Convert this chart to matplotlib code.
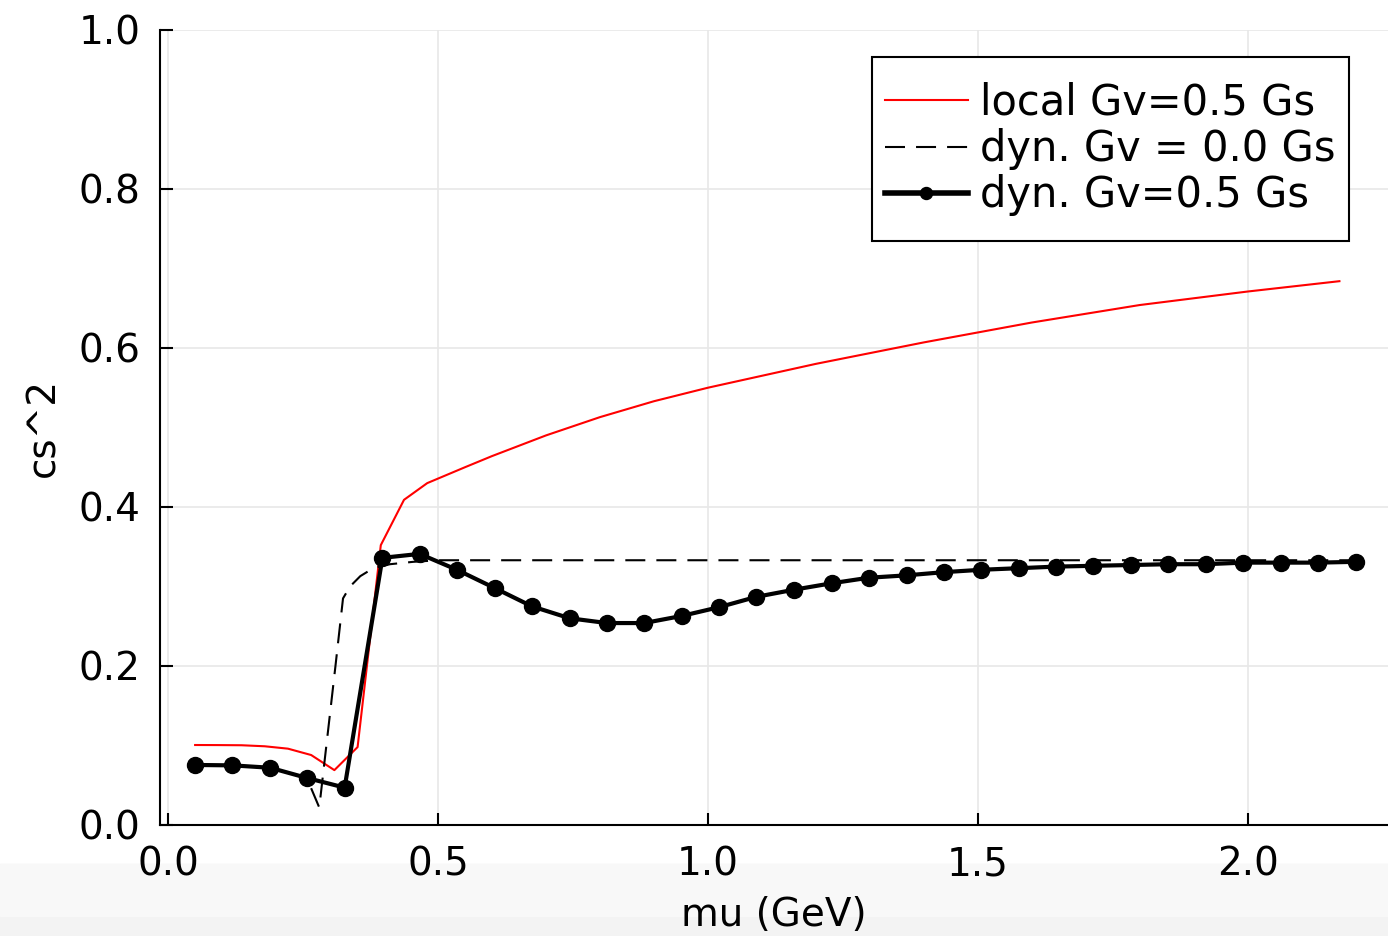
import matplotlib
matplotlib.use("Agg")
import matplotlib.pyplot as plt
from matplotlib.patches import Rectangle

# local Gv = 0.5 Gs (red)
mu_local = [0.05, 0.093, 0.136, 0.179, 0.222, 0.265, 0.308, 0.351, 0.394, 0.437,
            0.48, 0.55, 0.6, 0.7, 0.8, 0.9, 1.0, 1.2, 1.4, 1.6, 1.8, 2.0, 2.17]
cs2_local = [0.1006, 0.1005, 0.1003, 0.099, 0.096, 0.088, 0.069, 0.098, 0.352, 0.409,
             0.430, 0.450, 0.464, 0.490, 0.513, 0.533, 0.550, 0.580, 0.607, 0.632,
             0.654, 0.671, 0.684]

# dyn. Gv = 0.0 Gs (dashed)
mu_dyn0 = [0.05, 0.1185, 0.187, 0.257, 0.28, 0.31, 0.324, 0.337, 0.356, 0.38,
           0.411, 0.454, 0.5, 2.2]
cs2_dyn0 = [0.0755, 0.075, 0.072, 0.059, 0.022, 0.20, 0.285, 0.300, 0.313, 0.323,
            0.328, 0.331, 0.333, 0.333]

# dyn. Gv = 0.5 Gs (thick black with dots)
mu_dyn5 = [0.05, 0.119, 0.189, 0.258, 0.327, 0.397, 0.466, 0.535, 0.605, 0.674,
           0.744, 0.813, 0.882, 0.952, 1.021, 1.090, 1.160, 1.229, 1.298, 1.368,
           1.437, 1.506, 1.576, 1.645, 1.714, 1.784, 1.853, 1.922, 1.992, 2.061,
           2.131, 2.2]
cs2_dyn5 = [0.0755, 0.075, 0.072, 0.059, 0.047, 0.336, 0.341, 0.321, 0.298, 0.275,
            0.260, 0.254, 0.254, 0.263, 0.274, 0.287, 0.296, 0.304, 0.311, 0.314,
            0.318, 0.321, 0.323, 0.325, 0.326, 0.327, 0.328, 0.328, 0.330, 0.330,
            0.330, 0.331]

plt.rcParams['font.family'] = ['DejaVu Sans']
plt.rcParams['font.size'] = 28

fig = plt.figure(figsize=(13.88, 9.36), dpi=100)
# faint grey band at the very bottom of the screenshot
fig.patches.append(Rectangle((0, 0), 1, 0.077, transform=fig.transFigure,
                             color='#f3f3f3', zorder=-2))
fig.patches.append(Rectangle((0, 0.021), 1, 0.056, transform=fig.transFigure,
                             color='#f8f8f8', zorder=-1))

ax = fig.add_axes([0.1153, 0.1186, 0.8847, 0.8494])
ax.patch.set_alpha(0)

ax.plot(mu_local, cs2_local, color='red', lw=1.5, label='local Gv=0.5 Gs')
ax.plot(mu_dyn0, cs2_dyn0, color='black', lw=1.5, linestyle=(0, (9.6, 5.3)),
        label='dyn. Gv = 0.0 Gs')
ax.plot(mu_dyn5, cs2_dyn5, color='black', lw=3, marker='o', markersize=11.5,
        label='dyn. Gv=0.5 Gs')

ax.set_xlim(-0.015, 2.26)
ax.set_ylim(0, 1)
ax.set_xticks([0.0, 0.5, 1.0, 1.5, 2.0])
ax.set_yticks([0.0, 0.2, 0.4, 0.6, 0.8, 1.0])
ax.set_xticklabels(['0.0', '0.5', '1.0', '1.5', '2.0'])
ax.set_yticklabels(['0.0', '0.2', '0.4', '0.6', '0.8', '1.0'])
ax.grid(True, color='#e8e8e8', lw=1.2)
ax.set_axisbelow(True)

for s in ['top', 'right']:
    ax.spines[s].set_visible(False)
for s in ['left', 'bottom']:
    ax.spines[s].set_linewidth(1.5)
ax.tick_params(direction='in', length=9, width=1.5)
ax.tick_params(axis='y', pad=14)
ax.tick_params(axis='x', pad=15)

ax.set_xlabel('mu (GeV)', labelpad=9)
ax.set_ylabel('cs^2', labelpad=12)

leg = ax.legend(loc='upper right', bbox_to_anchor=(0.978, 0.966), borderaxespad=0,
                frameon=False, handlelength=2.0, handletextpad=0.3,
                labelspacing=0.1, borderpad=0.6, markerscale=0.75, fontsize=30)
for h in leg.get_lines()[2:]:
    h.set_linewidth(4)

# legend frame: tighter left/right padding than matplotlib's uniform borderpad
fig.canvas.draw()
bb = leg.get_window_extent().transformed(fig.transFigure.inverted())
shrink = 12 / fig.bbox.width
frame = Rectangle((bb.x0 + shrink, bb.y0), bb.width - 2 * shrink, bb.height,
                  transform=fig.transFigure, facecolor='white', edgecolor='black',
                  lw=1.5, zorder=4)
ax.add_artist(frame)
frame.set_transform(fig.transFigure)
leg.set_zorder(5)

fig.savefig('out.png', dpi=100)
